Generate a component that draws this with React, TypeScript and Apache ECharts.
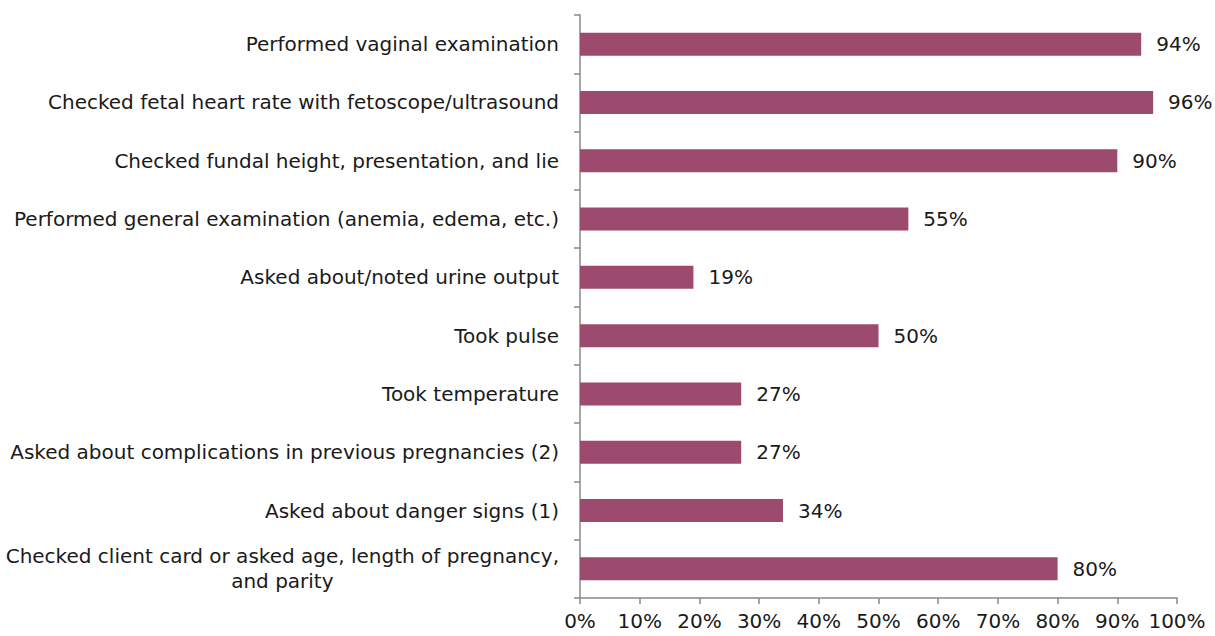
import React, { useEffect, useRef } from "react";
import * as echarts from "echarts";

const categories: string[] = [
  "Performed vaginal examination",
  "Checked fetal heart rate with fetoscope/ultrasound",
  "Checked fundal height, presentation, and lie",
  "Performed general examination (anemia, edema, etc.)",
  "Asked about/noted urine output",
  "Took pulse",
  "Took temperature",
  "Asked about complications in previous pregnancies (2)",
  "Asked about danger signs (1)",
  "Checked client card or asked age, length of pregnancy,\nand parity",
];

const values: number[] = [94, 96, 90, 55, 19, 50, 27, 27, 34, 80];

const xTicks: number[] = [0, 10, 20, 30, 40, 50, 60, 70, 80, 90, 100];

const FONT = "'DejaVu Sans', 'Liberation Sans', Arial, sans-serif";
const FS = 20;

export default function App() {
  const ref = useRef<HTMLDivElement>(null);
  useEffect(() => {
    if (!ref.current) return;
    const chart = echarts.init(ref.current, undefined, { renderer: "svg" });
    chart.setOption({
      animation: false,
      textStyle: { fontFamily: FONT },
      grid: { left: 580, right: 38, top: 15, bottom: 38, containLabel: false },
      xAxis: {
        type: "value",
        min: xTicks[0],
        max: xTicks[xTicks.length - 1],
        interval: 10,
        axisLine: { show: true, lineStyle: { color: "#888", width: 1.5 } },
        axisTick: { show: true, length: 6, lineStyle: { color: "#888", width: 1.5 } },
        splitLine: { show: false },
        axisLabel: {
          formatter: (v: number) => v + "%",
          color: "#1a1a1a",
          fontSize: FS,
          fontFamily: FONT,
          margin: 13,
        },
      },
      yAxis: {
        type: "category",
        data: categories,
        inverse: true,
        axisLine: { show: true, lineStyle: { color: "#888", width: 1.5 } },
        axisTick: { show: true, length: 6, lineStyle: { color: "#888", width: 1.5 } },
        axisLabel: {
          color: "#1a1a1a",
          fontSize: FS,
          fontFamily: FONT,
          margin: 21,
          lineHeight: 25,
          formatter: (v: string) =>
            v
              .split("\n")
              .map((l) => "{c|" + l + "}")
              .join("\n"),
          rich: {
            c: {
              align: "center",
              fontSize: FS,
              fontFamily: FONT,
              color: "#1a1a1a",
              lineHeight: 25,
            },
          },
        },
      },
      series: [
        {
          type: "bar",
          data: values,
          barWidth: 23,
          itemStyle: { color: "#9C4A6D" },
          label: {
            show: true,
            position: "right",
            distance: 15,
            formatter: (p: any) => p.value + "%",
            color: "#1a1a1a",
            fontSize: FS,
            fontFamily: FONT,
          },
        },
      ],
    });
    return () => chart.dispose();
  }, []);
  return (
    <div
      ref={ref}
      style={{ position: "absolute", left: 0, top: 0, width: 1215, height: 636 }}
    />
  );
}
